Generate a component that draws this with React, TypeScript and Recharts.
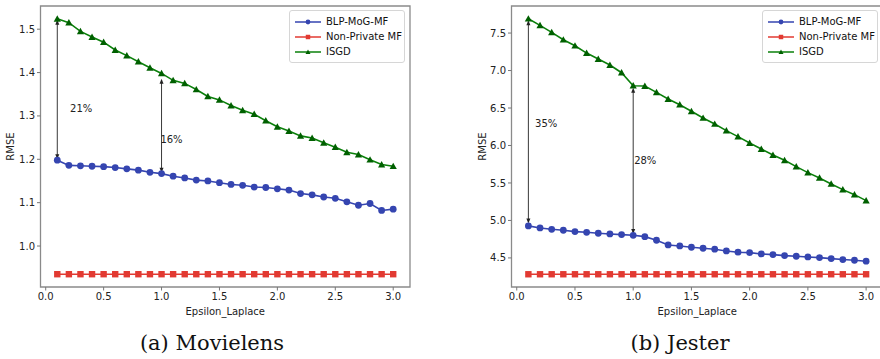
import React from "react";
import {
  LineChart,
  Line,
  XAxis,
  YAxis,
  Legend,
  ReferenceArea,
  ReferenceLine,
  ReferenceDot,
} from "recharts";

// x values (Epsilon_Laplace)
const epsilon = [
  0.1, 0.2, 0.3, 0.4, 0.5, 0.6, 0.7, 0.8, 0.9, 1.0, 1.1, 1.2, 1.3, 1.4, 1.5,
  1.6, 1.7, 1.8, 1.9, 2.0, 2.1, 2.2, 2.3, 2.4, 2.5, 2.6, 2.7, 2.8, 2.9, 3.0,
];

// (a) Movielens
const mlBlp = [
  1.198, 1.186, 1.185, 1.184, 1.183, 1.181, 1.178, 1.175, 1.17, 1.167, 1.161,
  1.157, 1.152, 1.15, 1.146, 1.142, 1.14, 1.136, 1.135, 1.132, 1.129, 1.121,
  1.118, 1.113, 1.11, 1.102, 1.094, 1.098, 1.082, 1.085,
];
const mlNonPrivate = [
  0.935, 0.935, 0.935, 0.935, 0.935, 0.935, 0.935, 0.935, 0.935, 0.935, 0.935,
  0.935, 0.935, 0.935, 0.935, 0.935, 0.935, 0.935, 0.935, 0.935, 0.935, 0.935,
  0.935, 0.935, 0.935, 0.935, 0.935, 0.935, 0.935, 0.935,
];
const mlIsgd = [
  1.524, 1.515, 1.495, 1.482, 1.47, 1.452, 1.439, 1.425, 1.411, 1.398, 1.382,
  1.375, 1.361, 1.345, 1.337, 1.324, 1.313, 1.304, 1.289, 1.275, 1.265, 1.254,
  1.249, 1.238, 1.228, 1.216, 1.211, 1.199, 1.188, 1.184,
];

// (b) Jester
const jsBlp = [
  4.927, 4.9, 4.882, 4.869, 4.851, 4.842, 4.829, 4.82, 4.811, 4.802, 4.784,
  4.736, 4.673, 4.66, 4.642, 4.629, 4.616, 4.593, 4.576, 4.571, 4.553, 4.544,
  4.531, 4.522, 4.513, 4.504, 4.491, 4.478, 4.469, 4.456,
];
const jsNonPrivate = [
  4.282, 4.282, 4.282, 4.282, 4.282, 4.282, 4.282, 4.282, 4.282, 4.282, 4.282,
  4.282, 4.282, 4.282, 4.282, 4.282, 4.282, 4.282, 4.282, 4.282, 4.282, 4.282,
  4.282, 4.282, 4.282, 4.282, 4.282, 4.282, 4.282, 4.282,
];
const jsIsgd = [
  7.691, 7.602, 7.509, 7.411, 7.331, 7.233, 7.153, 7.073, 6.971, 6.798, 6.793,
  6.709, 6.62, 6.544, 6.456, 6.367, 6.287, 6.198, 6.118, 6.033, 5.953, 5.873,
  5.802, 5.718, 5.638, 5.567, 5.487, 5.411, 5.344, 5.264,
];

const xTicks = [0, 0.5, 1.0, 1.5, 2.0, 2.5, 3.0];
const mlYTicks = [1.0, 1.1, 1.2, 1.3, 1.4, 1.5];
const jsYTicks = [4.5, 5.0, 5.5, 6.0, 6.5, 7.0, 7.5];

// improvement arrows: x, bottom, top, text and where the text sits
const mlNotes = [
  { x: 0.1, y1: 1.2, y2: 1.522, text: "21%", tx: 0.21, ty: 1.318 },
  { x: 1.0, y1: 1.169, y2: 1.386, text: "16%", tx: 0.99, ty: 1.246 },
];
const jsNotes = [
  { x: 0.1, y1: 4.96, y2: 7.67, text: "35%", tx: 0.157, ty: 6.287 },
  { x: 1.0, y1: 4.82, y2: 6.77, text: "28%", tx: 1.008, ty: 5.802 },
];

const BLUE = "#3545b0";
const RED = "#e23a32";
const GREEN = "#0b800b";
const FONT = "'DejaVu Sans', sans-serif";

const series = [
  { key: "blp", name: "BLP-MoG-MF", color: BLUE, marker: "circle" },
  { key: "np", name: "Non-Private MF", color: RED, marker: "square" },
  { key: "isgd", name: "ISGD", color: GREEN, marker: "triangle" },
];

const Marker = ({ type, cx, cy, color, s = 1 }: any) => {
  if (type === "circle") return <circle cx={cx} cy={cy} r={3.4 * s} fill={color} />;
  if (type === "square")
    return <rect x={cx - 3.2 * s} y={cy - 3.2 * s} width={6.4 * s} height={6.4 * s} fill={color} />;
  const h = 3.6 * s;
  return (
    <path
      d={`M${cx},${cy - h} L${cx + h},${cy + h * 0.8} L${cx - h},${cy + h * 0.8} Z`}
      fill={type === "triangle" ? "#006000" : color}
    />
  );
};

const makeDot = (type: string, color: string) => (p: any) =>
  <Marker key={`d-${p.index}`} type={type} cx={p.cx} cy={p.cy} color={color} />;

const ChartLegend = () => (
  <div
    style={{
      background: "#fff",
      border: "1px solid #d6d6d6",
      borderRadius: 3,
      padding: "3px 0 3px 4px",
      fontFamily: FONT,
      fontSize: 10,
      color: "#111",
    }}
  >
    {series.map((s) => (
      <div key={s.key} style={{ display: "flex", alignItems: "center", height: 15 }}>
        <svg width={28} height={10} style={{ marginRight: 4 }}>
          <line x1={1} y1={5} x2={27} y2={5} stroke={s.color} strokeWidth={1.5} />
          <Marker type={s.marker} cx={14} cy={5} color={s.color} s={0.7} />
        </svg>
        <span>{s.name}</span>
      </div>
    ))}
  </div>
);

const renderArrow = (p: any) => {
  const { x1, y1, x2, y2 } = p;
  const top = Math.min(y1, y2);
  const bot = Math.max(y1, y2);
  const x = (x1 + x2) / 2;
  return (
    <g>
      <line x1={x} y1={top + 2} x2={x} y2={bot - 2} stroke="#222" strokeWidth={0.9} />
      <path d={`M${x - 2},${top + 5} L${x},${top} L${x + 2},${top + 5} Z`} fill="#222" />
      <path d={`M${x - 2},${bot - 5} L${x},${bot} L${x + 2},${bot - 5} Z`} fill="#222" />
    </g>
  );
};

interface PanelProps {
  blp: number[];
  np: number[];
  isgd: number[];
  yDomain: [number, number];
  yTicks: number[];
  notes: typeof mlNotes;
  width: number;
  yAxisWidth: number;
  rightMargin: number;
  labelOffset: number;
  legendLeft: number;
}

const tickStyle = { fontFamily: FONT, fontSize: 10, fill: "#222" };

const Panel = ({
  blp,
  np,
  isgd,
  yDomain,
  yTicks,
  notes,
  width,
  yAxisWidth,
  rightMargin,
  labelOffset,
  legendLeft,
}: PanelProps) => {
  const data = epsilon.map((e, i) => ({ eps: e, blp: blp[i], np: np[i], isgd: isgd[i] }));
  const xDomain: [number, number] = [-0.045, 3.145];
  return (
    <LineChart
      width={width}
      height={330}
      data={data}
      margin={{ top: 6, right: rightMargin, left: 0, bottom: 15 }}
    >
      <XAxis
        dataKey="eps"
        type="number"
        domain={xDomain}
        ticks={xTicks}
        tickFormatter={(v) => v.toFixed(1)}
        axisLine={false}
        tickSize={3.5}
        tickLine={{ stroke: "#777" }}
        tick={tickStyle}
        height={28}
        allowDataOverflow
        label={{
          value: "Epsilon_Laplace",
          position: "insideBottom",
          offset: 0,
          style: { fontFamily: FONT, fontSize: 10, fill: "#222" },
        }}
      />
      <YAxis
        type="number"
        domain={yDomain}
        ticks={yTicks}
        tickFormatter={(v) => v.toFixed(1)}
        axisLine={false}
        tickSize={3.5}
        tickLine={{ stroke: "#777" }}
        tick={tickStyle}
        width={yAxisWidth}
        allowDataOverflow
        label={{
          value: "RMSE",
          angle: -90,
          position: "insideLeft",
          offset: labelOffset,
          style: { fontFamily: FONT, fontSize: 10, fill: "#222", textAnchor: "middle" },
        }}
      />
      <ReferenceArea
        x1={xDomain[0]}
        x2={xDomain[1]}
        y1={yDomain[0]}
        y2={yDomain[1]}
        fill="none"
        stroke="#8a8a8a"
        strokeWidth={1.3}
        ifOverflow="visible"
      />
      <Legend
        content={<ChartLegend />}
        layout="horizontal"
        verticalAlign="middle"
        align="center"
        wrapperStyle={{ top: 10, left: legendLeft, width: 116 }}
      />
      {series.map((s) => (
        <Line
          key={s.key}
          dataKey={s.key}
          name={s.name}
          stroke={s.color}
          strokeWidth={1.6}
          type="linear"
          dot={makeDot(s.marker, s.color)}
          activeDot={false}
          isAnimationActive={false}
        />
      ))}
      {notes.map((n, i) => (
        <ReferenceLine
          key={`a-${i}`}
          segment={[
            { x: n.x, y: n.y1 },
            { x: n.x, y: n.y2 },
          ]}
          shape={renderArrow}
          ifOverflow="visible"
        />
      ))}
      {notes.map((n, i) => (
        <ReferenceDot
          key={`t-${i}`}
          x={n.tx}
          y={n.ty}
          r={0}
          ifOverflow="visible"
          shape={(p: any) => (
            <text x={p.cx} y={p.cy} dy="0.35em" fontFamily={FONT} fontSize={10} fill="#222">
              {n.text}
            </text>
          )}
        />
      ))}
    </LineChart>
  );
};

const captionStyle: React.CSSProperties = {
  position: "absolute",
  top: 331,
  width: 220,
  textAlign: "center",
  fontFamily: "'DejaVu Serif', serif",
  fontSize: 21,
  lineHeight: "24px",
  color: "#111",
};

export default function App() {
  return (
    <div
      style={{
        position: "fixed",
        top: 0,
        left: 0,
        width: 880,
        height: 359,
        overflow: "hidden",
        background: "#fff",
      }}
    >
      <div style={{ position: "absolute", left: 0, top: 0 }}>
        <Panel
          blp={mlBlp}
          np={mlNonPrivate}
          isgd={mlIsgd}
          yDomain={[0.9055, 1.5535]}
          yTicks={mlYTicks}
          notes={mlNotes}
          width={440}
          yAxisWidth={40.5}
          rightMargin={30}
          labelOffset={10}
          legendLeft={289}
        />
      </div>
      <div style={{ position: "absolute", left: 440, top: 0 }}>
        <Panel
          blp={jsBlp}
          np={jsNonPrivate}
          isgd={jsIsgd}
          yDomain={[4.112, 7.861]}
          yTicks={jsYTicks}
          notes={jsNotes}
          width={460}
          yAxisWidth={71.5}
          rightMargin={17}
          labelOffset={42.7}
          legendLeft={322}
        />
      </div>
      <div style={{ ...captionStyle, left: 102 }}>(a) Movielens</div>
      <div style={{ ...captionStyle, left: 570 }}>(b) Jester</div>
    </div>
  );
}
